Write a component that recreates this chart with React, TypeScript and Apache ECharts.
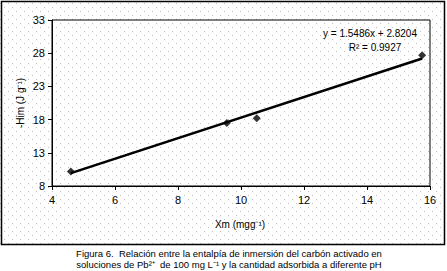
import React, { useEffect, useRef } from "react";
import * as echarts from "echarts";

const xValues = [4.6, 9.55, 10.5, 15.75];
const yValues = [10.2, 17.5, 18.2, 27.7];
const slope = 1.5486;
const intercept = 2.8204;
const equationText = "y = 1.5486x + 2.8204";
const r2Text = "R² = 0.9927";
const xAxisName = "Xm (mgg⁻¹)";
const yAxisName = "-Him (J g⁻¹)";
const captionLines = [
  "Figura 6.  Relación entre la entalpía de inmersión del carbón activado en",
  "soluciones de Pb²⁺  de 100 mg L⁻¹ y la cantidad adsorbida a diferente pH",
];

const dotSvg =
  "data:image/svg+xml;utf8," +
  encodeURIComponent(
    '<svg xmlns="http://www.w3.org/2000/svg" width="8" height="8"><rect x="0" y="0" width="1" height="1" fill="#c0c0c0"/><rect x="4" y="4" width="1" height="1" fill="#c0c0c0"/></svg>'
  );

export default function App() {
  const ref = useRef<HTMLDivElement>(null);
  useEffect(() => {
    if (!ref.current) return;
    const chart = echarts.init(ref.current, undefined, { renderer: "svg" });
    const xFirst = xValues[0];
    const xLast = xValues[xValues.length - 1];
    const trend = [
      [xFirst, slope * xFirst + intercept],
      [xLast, slope * xLast + intercept],
    ];
    const font = "Arial, 'Liberation Sans', sans-serif";
    chart.setOption({
      animation: false,
      backgroundColor: "transparent",
      textStyle: { fontFamily: font },
      grid: {
        left: 52,
        top: 20,
        right: 17,
        bottom: 85,
        show: true,
        borderColor: "#000",
        borderWidth: 1,
        backgroundColor: "transparent",
      },
      xAxis: {
        type: "value",
        min: 4,
        max: 16,
        interval: 2,
        axisLine: { lineStyle: { color: "#000", width: 1 } },
        axisTick: { show: true, length: 4, lineStyle: { color: "#000" } },
        axisLabel: { color: "#000", fontSize: 11, margin: 8, fontFamily: font },
        splitLine: { show: false },
      },
      yAxis: {
        type: "value",
        min: 8,
        max: 33,
        interval: 5,
        axisLine: { show: true, lineStyle: { color: "#000", width: 1 } },
        axisTick: { show: true, length: 4, lineStyle: { color: "#000" } },
        axisLabel: { color: "#000", fontSize: 11, margin: 7, fontFamily: font },
        splitLine: { show: false },
      },
      series: [
        {
          type: "line",
          data: trend,
          symbol: "none",
          lineStyle: { color: "#000", width: 2.5 },
          silent: true,
          z: 2,
        },
        {
          type: "scatter",
          data: xValues.map((x, i) => [x, yValues[i]]),
          symbol: "diamond",
          symbolSize: 8,
          itemStyle: { color: "#000" },
          z: 3,
        },
      ],
      graphic: [
        {
          type: "rect",
          shape: { x: 1.5, y: 1.5, width: 443, height: 243 },
          style: { fill: "none", stroke: "#000", lineWidth: 1.5 },
          silent: true,
        },
        {
          type: "text",
          x: 370,
          y: 33,
          style: {
            text: equationText,
            fill: "#000",
            font: `10px ${font}`,
            align: "center",
            verticalAlign: "middle",
          },
        },
        {
          type: "text",
          x: 375,
          y: 47,
          style: {
            text: r2Text,
            fill: "#000",
            font: `10px ${font}`,
            align: "center",
            verticalAlign: "middle",
          },
        },
        {
          type: "text",
          x: 240,
          y: 224,
          style: {
            text: xAxisName,
            fill: "#000",
            font: `10px ${font}`,
            align: "center",
            verticalAlign: "middle",
          },
        },
        {
          type: "text",
          x: 20,
          y: 103,
          rotation: Math.PI / 2,
          style: {
            text: yAxisName,
            fill: "#000",
            font: `10px ${font}`,
            align: "center",
            verticalAlign: "middle",
          },
        },
        {
          type: "text",
          x: 229,
          y: 253,
          style: {
            text: captionLines[0],
            fill: "#000",
            font: `9.5px ${font}`,
            align: "center",
            verticalAlign: "middle",
          },
        },
        {
          type: "text",
          x: 229,
          y: 264,
          style: {
            text: captionLines[1],
            fill: "#000",
            font: `9.5px ${font}`,
            align: "center",
            verticalAlign: "middle",
          },
        },
      ],
    });
    return () => chart.dispose();
  }, []);
  return (
    <div style={{ position: "fixed", left: 0, top: 0, width: 447, height: 271, background: "#fff" }}>
      <div
        style={{
          position: "absolute",
          left: 0,
          top: 0,
          width: 445,
          height: 245,
          backgroundImage: `url("${dotSvg}")`,
          backgroundPosition: "0px 3px",
        }}
      />
      <div ref={ref} style={{ position: "absolute", left: 0, top: 0, width: 447, height: 271 }} />
    </div>
  );
}
